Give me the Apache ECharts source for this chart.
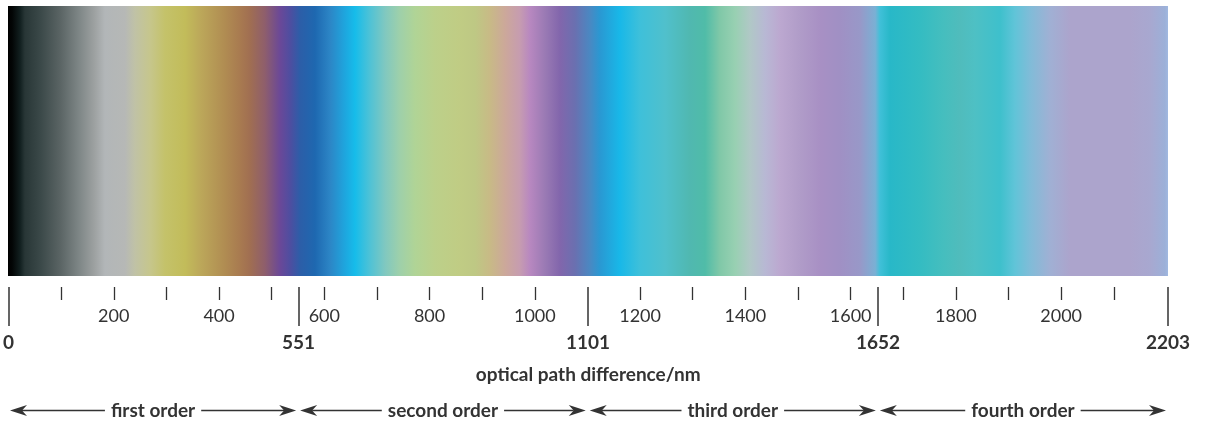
<!DOCTYPE html>
<html>
<head>
<meta charset="utf-8">
<style>
  html, body { margin: 0; padding: 0; background: #fff; }
  #chart { width: 1205px; height: 422px; }
</style>
<script src="https://cdn.jsdelivr.net/npm/echarts@6/dist/echarts.min.js"></script>
</head>
<body>
<div id="chart"></div>
<script>
// Interference colour band: optical path difference (nm) -> colour
const bandNm = [0, 8, 23, 32, 61, 99, 137, 165, 184, 222, 241, 270, 298, 336, 365, 412, 441, 460,
  488, 517, 536, 555, 583, 612, 640, 659, 687, 716, 744, 773, 811, 858, 887, 915, 944, 972, 991,
  1020, 1048, 1077, 1105, 1124, 1162, 1200, 1248, 1295, 1324, 1352, 1381, 1409, 1438, 1466, 1504,
  1542, 1580, 1618, 1647, 1656, 1675, 1732, 1779, 1808, 1836, 1884, 1912, 1941, 1979, 2017, 2074,
  2131, 2169, 2197, 2203];
const bandColor = ['#000000', '#030606', '#122020', '#283636', '#3a4848', '#5a6464', '#808888',
  '#9ea2a2', '#b2b6b8', '#b6b8b6', '#c0c2a6', '#c6c68c', '#c4c26a', '#c2bc5a', '#bca85a', '#b08c52',
  '#a87a50', '#a06e52', '#8e5e6c', '#6a4898', '#4e4ea0', '#2c5ea8', '#1e68b0', '#2c86c6', '#1ea6de',
  '#16bcea', '#4ec2d6', '#80c8c0', '#9ed0aa', '#b0d496', '#bcd08a', '#c0cc84', '#bec884', '#c8ba86',
  '#cca89a', '#c69cb0', '#b888c0', '#9a7ab4', '#8266ac', '#6a70b0', '#4a88c2', '#2a98d2', '#18b8e8',
  '#3ec0da', '#50c0cc', '#50b8b0', '#50bca8', '#80c8a8', '#98d0b2', '#b0c8c6', '#b8b8d4', '#bca8d0',
  '#b09cc8', '#a890c4', '#a090c4', '#9898c8', '#7ab0d4', '#40c0d8', '#28b8c8', '#34bcc2', '#46bebe',
  '#50bcbc', '#4ec0c4', '#3ec0cc', '#60c4d8', '#80bcd8', '#a0b0d4', '#aca4cc', '#aca4cc', '#aca4cc',
  '#a8a8d0', '#9cb0d8', '#a0b8e0'];

const maxNm = 2203;
const minorTicks = [100, 200, 300, 400, 500, 600, 700, 800, 900, 1000, 1200, 1300, 1400, 1500,
  1600, 1700, 1800, 1900, 2000, 2100];
const minorLabels = [200, 400, 600, 800, 1000, 1200, 1400, 1600, 1800, 2000];
const orderBounds = [0, 551, 1101, 1652, 2203];
const orderNames = ['first order', 'second order', 'third order', 'fourth order'];
const axisTitle = 'optical path difference/nm';

const FONT = 'Lato, "Noto Sans", sans-serif';
const INK = '#333333';

const orders = orderNames.map((name, i) => [orderBounds[i], orderBounds[i + 1], name]);
const plain = v => String(v);

const chart = echarts.init(document.getElementById('chart'), null, { renderer: 'canvas' });

chart.setOption({
  animation: false,
  grid: [
    { left: 8, right: 37, top: 6, bottom: 146 },      // colour band
    { left: 8, right: 37, top: 276, height: 11 },     // scale
    { left: 8, right: 37, top: 398, height: 24 }      // order arrows
  ],
  xAxis: [
    { type: 'value', gridIndex: 0, min: 0, max: maxNm, show: false },
    {
      type: 'value', gridIndex: 1, min: 0, max: maxNm, position: 'bottom',
      splitLine: { show: false }, axisLine: { show: false },
      axisTick: { show: true, inside: false, customValues: minorTicks, length: 13,
        lineStyle: { color: INK, width: 1.3 } },
      axisLabel: { customValues: minorLabels, formatter: plain, margin: 20,
        fontFamily: FONT, fontSize: 18, color: INK }
    },
    {
      type: 'value', gridIndex: 1, min: 0, max: maxNm, position: 'bottom',
      splitLine: { show: false }, axisLine: { show: false },
      axisTick: { show: true, inside: false, customValues: orderBounds, length: 39,
        lineStyle: { color: INK, width: 1.5 } },
      axisLabel: { customValues: orderBounds, formatter: plain, margin: 46,
        fontFamily: FONT, fontSize: 19, fontWeight: 'bold', color: INK },
      name: axisTitle, nameLocation: 'middle', nameGap: 78,
      nameTextStyle: { fontFamily: FONT, fontSize: 19, fontWeight: 'bold', color: INK }
    },
    { type: 'value', gridIndex: 2, min: 0, max: maxNm, show: false }
  ],
  yAxis: [
    { type: 'value', gridIndex: 0, min: 0, max: 1, show: false },
    { type: 'value', gridIndex: 1, min: 0, max: 1, show: false },
    { type: 'value', gridIndex: 2, min: 0, max: 1, show: false }
  ],
  series: [
    {
      // colour band across the full retardation range
      type: 'custom', xAxisIndex: 0, yAxisIndex: 0,
      data: [[0, maxNm]],
      renderItem: function (params, api) {
        const p0 = api.coord([api.value(0), 1]);
        const p1 = api.coord([api.value(1), 0]);
        const span = api.value(1) - api.value(0);
        return {
          type: 'rect',
          shape: { x: p0[0], y: p0[1], width: p1[0] - p0[0], height: p1[1] - p0[1] },
          style: {
            fill: new echarts.graphic.LinearGradient(0, 0, 1, 0,
              bandNm.map((nm, i) => ({ offset: nm / span, color: bandColor[i] })))
          }
        };
      }
    },
    {
      // order ranges with double-headed arrows
      type: 'custom', xAxisIndex: 3, yAxisIndex: 2,
      data: orders,
      renderItem: function (params, api) {
        const a = api.coord([api.value(0), 0.5]);
        const b = api.coord([api.value(1), 0.5]);
        const y = Math.round(a[1]) + 0.5;
        const xl = a[0] + 2, xr = b[0] - 2;
        const len = 17, hw = 5.5, notch = 12;
        const name = orders[params.dataIndex][2];
        return {
          type: 'group',
          children: [
            { type: 'line', shape: { x1: xl + notch, y1: y, x2: xr - notch, y2: y },
              style: { stroke: INK, lineWidth: 1.5 } },
            { type: 'polygon', shape: { points: [[xl, y], [xl + len, y - hw], [xl + notch, y], [xl + len, y + hw]] },
              style: { fill: INK } },
            { type: 'polygon', shape: { points: [[xr, y], [xr - len, y - hw], [xr - notch, y], [xr - len, y + hw]] },
              style: { fill: INK } },
            { type: 'text', x: (a[0] + b[0]) / 2, y: y, z2: 10,
              style: { text: name, fontFamily: FONT, fontSize: 19, fontWeight: 'bold', fill: INK,
                align: 'center', verticalAlign: 'middle', backgroundColor: '#fff', padding: [0, 6] } }
          ]
        };
      }
    }
  ]
});
</script>
</body>
</html>
